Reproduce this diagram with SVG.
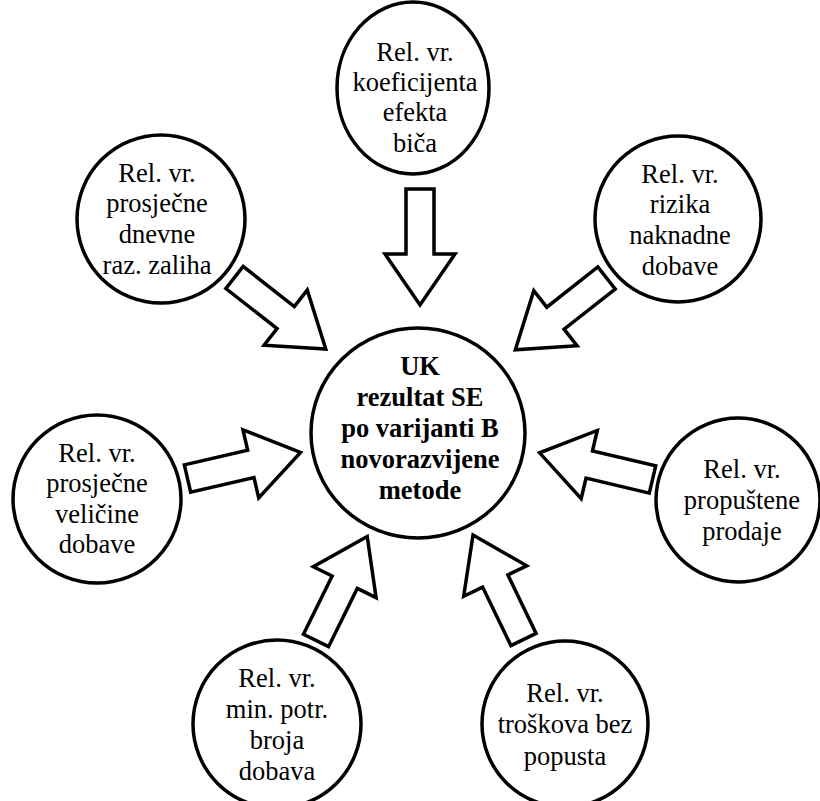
<svg xmlns="http://www.w3.org/2000/svg" xmlns:xlink="http://www.w3.org/1999/xlink" width="820" height="801" viewBox="0 0 820 801">
<style>
.node{fill:#fff;stroke:#000;stroke-width:3.5}
.t{font-family:"Liberation Serif","Times New Roman",serif;font-size:26.5px;text-anchor:middle;fill:#000}
.b{font-weight:bold}
.arr{fill:#fff;stroke:#000;stroke-width:3.5;stroke-linejoin:miter}
</style>
<defs>
<polygon id="arrow" class="arr" points="0,-14 65,-14 65,-35 116,0 65,35 65,14 0,14"/>
</defs>
<rect width="820" height="801" fill="#fff"/>
<g id="connectors">
<use xlink:href="#arrow" href="#arrow" transform="translate(420,189) rotate(90)"/>
<use xlink:href="#arrow" href="#arrow" transform="translate(234.5,277.5) rotate(38.1)"/>
<use xlink:href="#arrow" href="#arrow" transform="translate(606.5,278) rotate(141.8)"/>
<use xlink:href="#arrow" href="#arrow" transform="translate(187.5,478.5) rotate(-13)"/>
<use xlink:href="#arrow" href="#arrow" transform="translate(652.5,479.5) rotate(193.3)"/>
<use xlink:href="#arrow" href="#arrow" transform="translate(316,640.5) rotate(-63.8)"/>
<use xlink:href="#arrow" href="#arrow" transform="translate(523.5,639.5) rotate(244.2)"/>
</g>
<g id="center">
<ellipse class="node" cx="418" cy="433" rx="107" ry="105"/>
<text class="t b" x="420" y="375">UK</text>
<text class="t b" x="420" y="406">rezultat SE</text>
<text class="t b" x="420" y="437">po varijanti B</text>
<text class="t b" x="420" y="468">novorazvijene</text>
<text class="t b" x="420" y="499">metode</text>
</g>
<g id="n-bic">
<ellipse class="node" cx="413" cy="88" rx="76" ry="86"/>
<text class="t" x="415" y="61">Rel. vr.</text>
<text class="t" x="415" y="91">koeficijenta</text>
<text class="t" x="415" y="121">efekta</text>
<text class="t" x="415" y="152">biča</text>
</g>
<g id="n-zaliha">
<circle class="node" cx="161" cy="219" r="84"/>
<text class="t" x="157" y="182">Rel. vr.</text>
<text class="t" x="157" y="212">prosječne</text>
<text class="t" x="157" y="243">dnevne</text>
<text class="t" x="157" y="274">raz. zaliha</text>
</g>
<g id="n-rizik">
<circle class="node" cx="678" cy="219" r="83"/>
<text class="t" x="680" y="183">Rel. vr.</text>
<text class="t" x="680" y="213">rizika</text>
<text class="t" x="680" y="244">naknadne</text>
<text class="t" x="680" y="275">dobave</text>
</g>
<g id="n-velicina">
<circle class="node" cx="97" cy="499" r="84"/>
<text class="t" x="97" y="462">Rel. vr.</text>
<text class="t" x="97" y="492">prosječne</text>
<text class="t" x="97" y="523">veličine</text>
<text class="t" x="97" y="553">dobave</text>
</g>
<g id="n-prodaja">
<circle class="node" cx="738" cy="500" r="82"/>
<text class="t" x="742" y="478">Rel. vr.</text>
<text class="t" x="742" y="509">propuštene</text>
<text class="t" x="742" y="540">prodaje</text>
</g>
<g id="n-broj">
<circle class="node" cx="277" cy="724" r="84"/>
<text class="t" x="277" y="687">Rel. vr.</text>
<text class="t" x="277" y="718">min. potr.</text>
<text class="t" x="277" y="749">broja</text>
<text class="t" x="277" y="780">dobava</text>
</g>
<g id="n-popust">
<circle class="node" cx="565" cy="724" r="83"/>
<text class="t" x="565" y="702">Rel. vr.</text>
<text class="t" x="565" y="733">troškova bez</text>
<text class="t" x="565" y="765">popusta</text>
</g>
</svg>
